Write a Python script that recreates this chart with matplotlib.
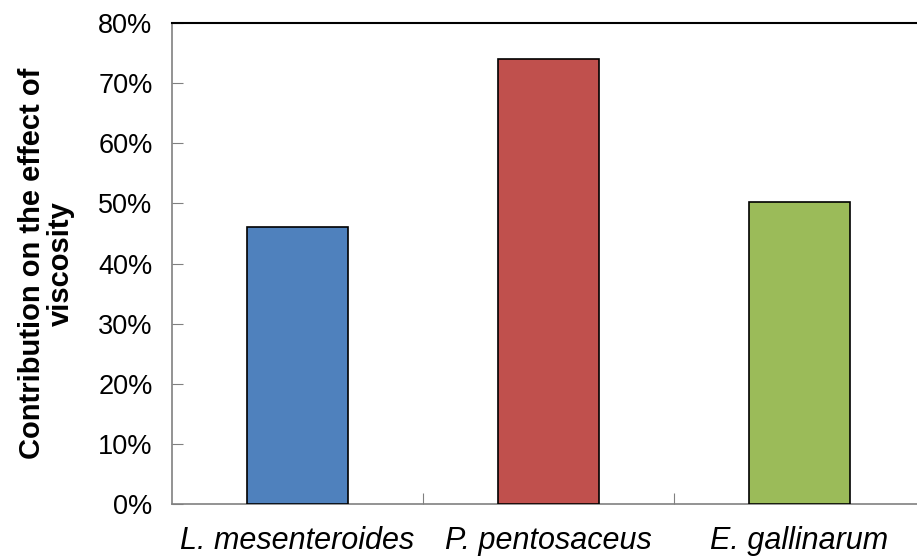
import matplotlib.pyplot as plt
import numpy as np

plt.rcParams['font.family'] = ['Liberation Sans', 'DejaVu Sans']

species = ["L. mesenteroides", "P. pentosaceus", "E. gallinarum"]
contribution = [46.0, 74.0, 50.3]
colors = ["#4F81BD", "#C0504D", "#9BBB59"]
yticks = [0, 10, 20, 30, 40, 50, 60, 70, 80]

fig = plt.figure(figsize=(9.17, 5.57), dpi=100)
# axis runs past the right edge of the picture, as in the original
ax = fig.add_axes([172 / 917, 1 - 504 / 557, 753 / 917, 481 / 557])

x = np.arange(len(species))
ax.bar(x, contribution, width=0.4, color=colors, edgecolor="black", linewidth=1.2, zorder=3)

ax.set_xlim(-0.5, 2.5)
ax.set_ylim(0, 80)
ax.set_yticks(yticks)
ax.set_yticklabels([f"{v}%" for v in yticks], fontsize=19.5)
ax.set_xticks([0.5, 1.5])
ax.set_xticklabels([])
ax.set_xticks(x, minor=True)
ax.set_xticklabels(species, minor=True, fontsize=22, style="italic")
ax.tick_params(axis="x", which="minor", length=0, pad=16)
ax.tick_params(axis="x", which="major", direction="in", length=8, color="#808080")
ax.tick_params(axis="y", direction="in", length=8, color="#808080", pad=14)

for side in ["left", "bottom"]:
    ax.spines[side].set_color("#808080")
    ax.spines[side].set_linewidth(1.2)
ax.spines["top"].set_color("black")
ax.spines["top"].set_linewidth(1.5)
ax.spines["right"].set_visible(False)

ax.set_ylabel("Contribution on the effect of\nviscosity", fontsize=21, fontweight="bold", linespacing=1.05)
ax.yaxis.set_label_coords(-97 / 753, 0.5)

fig.savefig("out.png", dpi=100)
